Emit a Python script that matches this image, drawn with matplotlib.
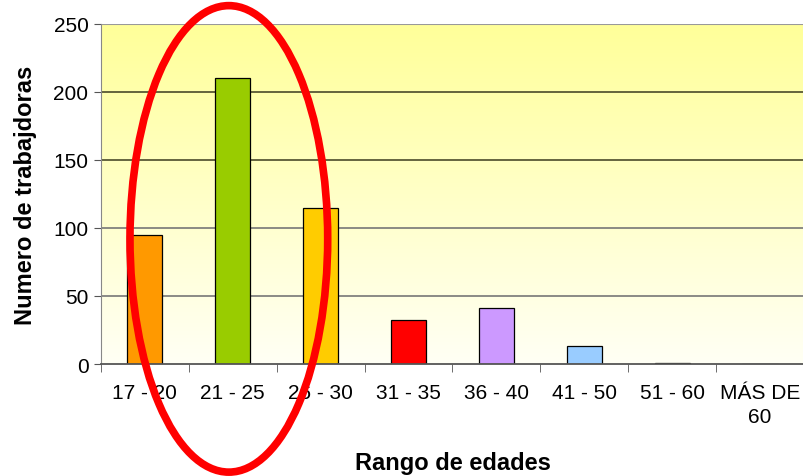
import numpy as np
import matplotlib
matplotlib.use("Agg")
import matplotlib.pyplot as plt
from matplotlib.patches import Ellipse

plt.rcParams['font.family'] = ['Liberation Sans', 'DejaVu Sans']

# Data
categories = ["17 - 20", "21 - 25", "26 - 30", "31 - 35", "36 - 40",
              "41 - 50", "51 - 60", "MÁS DE\n60"]
counts = [95, 210, 115, 32, 41, 13, 1, 0]
bar_colors = ["#FF9900", "#99CC00", "#FFCC00", "#FF0000", "#CC99FF",
              "#99CCFF", "#330033", "#FFFFFF"]
y_ticks = [0, 50, 100, 150, 200, 250]

fig = plt.figure(figsize=(8.04, 4.77), dpi=100)
ax = fig.add_axes([0.1256, 0.2348, 0.8744, 0.7128])

x = np.arange(len(categories))

# gradient background, yellow at top fading to near white
grad = np.linspace(0, 1, 256).reshape(-1, 1)
top = np.array([1.0, 1.0, 0.6])
bottom = np.array([1.0, 1.0, 0.96])
img = bottom + (top - bottom) * grad[..., None]
ax.imshow(img, extent=[-0.5, 7.5, 0, 250], origin='lower', aspect='auto', zorder=0)

for yv in y_ticks[1:-1]:
    c = "#4a4a2a" if yv >= 150 else "#777777"
    ax.axhline(yv, color=c, lw=1.2, zorder=1)
ax.axhline(250, color="#999999", lw=1.5, zorder=1)

ax.bar(x, counts, width=0.4, color=bar_colors, edgecolor="black", linewidth=0.9, zorder=2)

ax.set_xlim(-0.5, 7.5)
ax.set_ylim(0, 250)
ax.set_yticks(y_ticks)
ax.set_xticks(x)
ax.set_xticklabels(categories, fontsize=15, linespacing=1.3)
ax.set_xticks(np.arange(-0.5, 8, 1), minor=True)
ax.tick_params(axis='x', which='major', length=0, pad=14)
ax.tick_params(axis='x', which='minor', length=6, direction='out', color="#555555")
ax.tick_params(axis='y', labelsize=15, length=5, color="#555555", pad=4)

for s in ["top", "right"]:
    ax.spines[s].set_visible(False)
ax.spines["left"].set_color("#888888")
ax.spines["bottom"].set_color("#555555")
ax.spines["bottom"].set_linewidth(1.3)

ax.set_ylabel("Numero de trabajdoras", fontsize=17, fontweight='bold', labelpad=12)
ax.set_xlabel("Rango de edades", fontsize=17, fontweight='bold', labelpad=18)

# red highlight ellipse around first three groups
ell = Ellipse((0.955, 92), width=2.25, height=343, fill=False, edgecolor="#FF0000",
              linewidth=5.5, clip_on=False, zorder=5)
ax.add_patch(ell)

fig.savefig("out.png", dpi=100)
